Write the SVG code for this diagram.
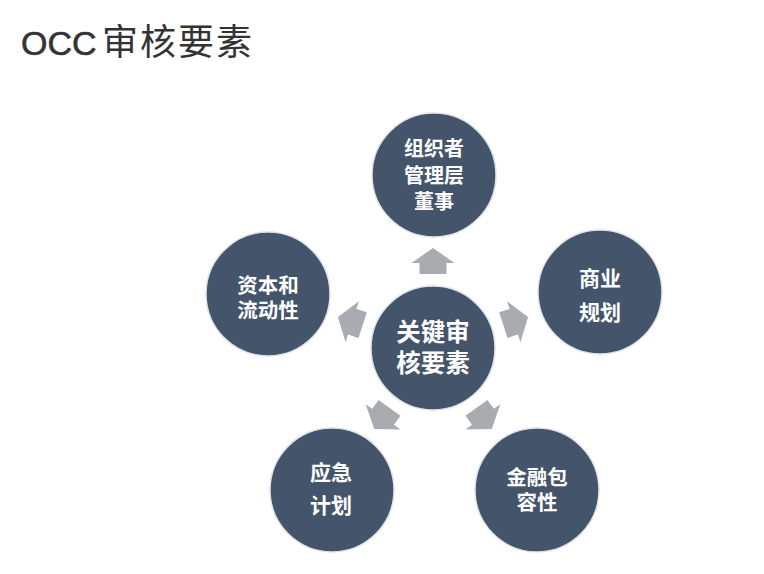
<svg xmlns="http://www.w3.org/2000/svg" width="764" height="574" viewBox="0 0 764 574">
<defs>
<style>
.node{fill:#44546a;stroke:#dfe3e8;stroke-width:1.5}
.lbl{fill:#ffffff;font-family:"Noto Sans CJK SC","Liberation Sans",sans-serif;font-weight:700;text-anchor:middle}
.arr{fill:#a8abb0}
.title{fill:#333333;font-family:"Liberation Sans","Noto Sans CJK SC",sans-serif}
</style>
<polygon id="arrowShape" points="0,-13 21.5,2 13.5,2 13.5,13 -13.5,13 -13.5,2 -21.5,2"/>
</defs>
<rect width="764" height="574" fill="#ffffff"/>
<text class="title" x="21" y="55" font-size="34" stroke="#333333" stroke-width="0.6">OCC<tspan x="102" stroke="none" font-family="Noto Sans CJK SC, sans-serif" font-size="36" letter-spacing="2">审核要素</tspan></text>
<g id="connectors">
<use href="#arrowShape" class="arr" transform="translate(433,261)"/>
<use href="#arrowShape" class="arr" transform="translate(515.7,321.1) rotate(72)"/>
<use href="#arrowShape" class="arr" transform="translate(484.1,418.4) rotate(144)"/>
<use href="#arrowShape" class="arr" transform="translate(381.9,418.4) rotate(216)"/>
<use href="#arrowShape" class="arr" transform="translate(350.3,321.1) rotate(288)"/>
</g>
<g id="center">
<circle class="node" cx="433" cy="348" r="62"/>
<text class="lbl" font-size="24.5"><tspan x="433" y="341">关键审</tspan><tspan x="433" y="372">核要素</tspan></text>
</g>
<g id="top">
<circle class="node" cx="434" cy="175" r="62"/>
<text class="lbl" font-size="20"><tspan x="434" y="156">组织者</tspan><tspan x="434" y="183">管理层</tspan><tspan x="434" y="209">董事</tspan></text>
</g>
<g id="left">
<circle class="node" cx="268" cy="294" r="62"/>
<text class="lbl" font-size="20.5"><tspan x="268" y="293">资本和</tspan><tspan x="268" y="318">流动性</tspan></text>
</g>
<g id="right">
<circle class="node" cx="600" cy="292" r="62"/>
<text class="lbl" font-size="21"><tspan x="600" y="286">商业</tspan><tspan x="600" y="320">规划</tspan></text>
</g>
<g id="bottomLeft">
<circle class="node" cx="332" cy="490" r="62"/>
<text class="lbl" font-size="21"><tspan x="331" y="480">应急</tspan><tspan x="331" y="513">计划</tspan></text>
</g>
<g id="bottomRight">
<circle class="node" cx="537" cy="490" r="62"/>
<text class="lbl" font-size="20.5"><tspan x="537" y="485">金融包</tspan><tspan x="537" y="510">容性</tspan></text>
</g>
</svg>
